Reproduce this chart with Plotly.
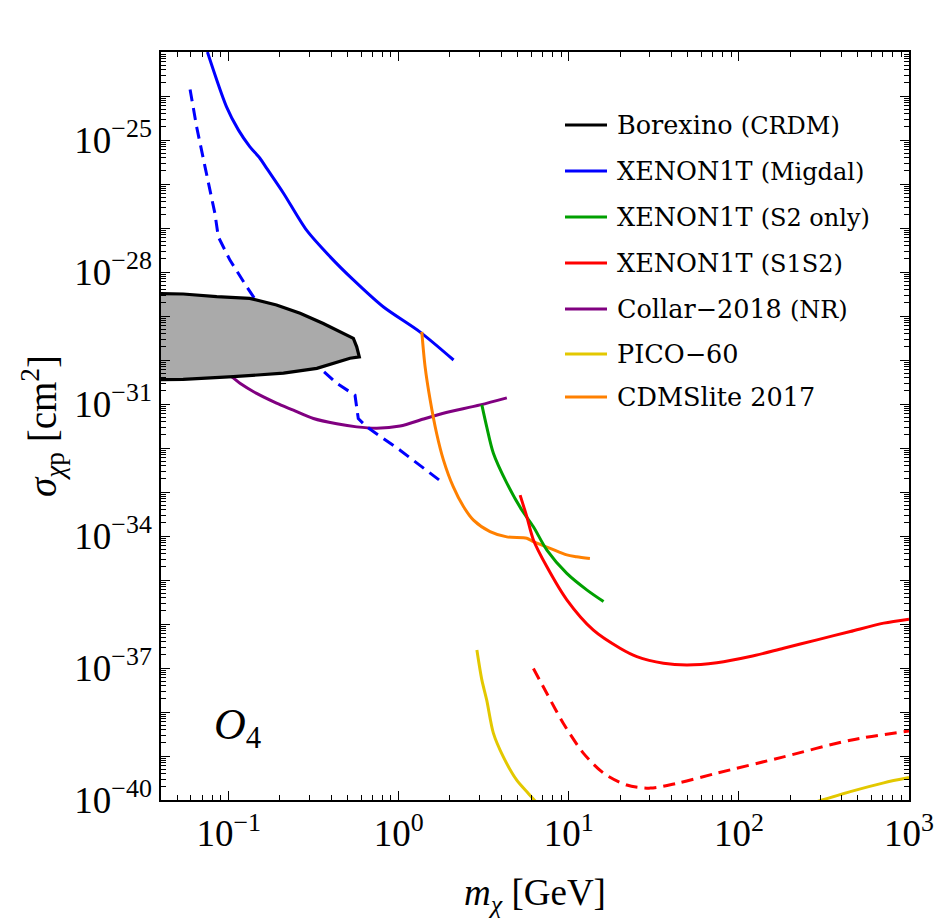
import plotly.graph_objects as go

# ---------------- data ----------------
# Borexino (CRDM) excluded region (closed polygon: upper edge then lower edge)
borexino_x = [0.03, 0.054, 0.085, 0.133, 0.191, 0.263, 0.360, 0.472, 0.541, 0.566, 0.586,
              0.517, 0.330, 0.210, 0.1064, 0.054, 0.03, 0.03]
borexino_y = [-28.48, -28.50, -28.56, -28.60, -28.75, -28.94, -29.17, -29.39, -29.51, -29.70, -29.93,
              -29.96, -30.19, -30.30, -30.38, -30.44, -30.45, -28.48]

migdal_x = [0.075, 0.097, 0.114, 0.133, 0.153, 0.167, 0.21, 0.287, 0.394, 0.541, 0.81, 1.33, 2.1]
migdal_y = [-23.0, -24.24, -24.77, -25.15, -25.42, -25.64, -26.21, -27.05, -27.65, -28.18, -28.79, -29.36, -30.0]

migdal_d_x = [0.0593, 0.0648, 0.0726, 0.083, 0.0869, 0.1017, 0.1275, 0.153, 0.23, 0.337, 0.432, 0.553,
              0.578, 0.648, 1.018, 1.83]
migdal_d_y = [-23.85, -24.70, -25.61, -26.67, -27.20, -27.73, -28.33, -28.79, -29.45, -30.15, -30.53, -30.80,
              -31.33, -31.52, -32.05, -32.80]

s2_x = [3.08, 3.29, 3.60, 4.32, 5.29, 6.19, 7.43, 9.73, 12.8, 16.0]
s2_y = [-31.02, -31.52, -32.12, -32.80, -33.41, -33.79, -34.32, -34.85, -35.23, -35.49]

s1s2_x = [5.17, 5.66, 6.19, 7.43, 9.73, 13.95, 20.0, 25.1, 36.0, 49.4, 74.2, 116.5, 183, 288, 452, 710, 1000]
s1s2_y = [-33.07, -33.56, -34.09, -34.70, -35.45, -36.14, -36.55, -36.74, -36.89, -36.93, -36.88, -36.74,
          -36.55, -36.36, -36.17, -35.98, -35.89]

s1s2_d_x = [6.19, 7.43, 9.29, 12.2, 16.0, 21.9, 30.1, 43.2, 74.2, 183, 452, 1000]
s1s2_d_y = [-37.01, -37.58, -38.26, -38.94, -39.39, -39.66, -39.73, -39.62, -39.39, -39.02, -38.64, -38.43]

collar_x = [0.09, 0.104, 0.1165, 0.146, 0.191, 0.24, 0.315, 0.432, 0.566, 0.742, 1.018, 1.40, 1.83, 3.01, 4.32]
collar_y = [-30.30, -30.38, -30.53, -30.76, -30.98, -31.14, -31.33, -31.45, -31.52, -31.55, -31.50, -31.34,
            -31.21, -31.02, -30.86]

pico_x = [2.88, 3.08, 3.29, 3.60, 4.12, 4.94, 5.78, 6.6, None, 280, 452, 710, 1000]
pico_y = [-36.59, -37.27, -37.73, -38.48, -39.02, -39.55, -39.85, -40.1, None, -40.05, -39.81, -39.61, -39.49]

cdms_x = [1.366, 1.428, 1.53, 1.67, 1.83, 2.09, 2.40, 2.75, 3.44, 4.32, 5.66, 6.19, 7.76, 9.73, 11.1, 13.3]
cdms_y = [-29.36, -30.15, -30.91, -31.67, -32.27, -32.88, -33.33, -33.64, -33.90, -34.02, -34.05, -34.13,
          -34.28, -34.43, -34.47, -34.51]

legend_labels = ["Borexino", "XENON1T", "XENON1T", "XENON1T", "Collar\u22122018", "PICO\u221260", "CDMSlite 2017"]
legend_notes = ["(CRDM)", "(Migdal)", "(S2 only)", "(S1S2)", "(NR)", "", ""]
legend_colors = ["#000000", "#0000FF", "#00A000", "#FF0000", "#800080", "#E3C800", "#FF8000"]

x_tickvals = [0.1, 1, 10, 100, 1000]
x_ticktext = ["10<sup>\u22121</sup>", "10<sup>0</sup>", "10<sup>1</sup>", "10<sup>2</sup>", "10<sup>3</sup>"]
y_decades = list(range(-40, -22))
y_labelled = [-40, -37, -34, -31, -28, -25]

# ---------------- figure ----------------
def ylin(v):
    return [None if a is None else 10 ** a for a in v]

fig = go.Figure()
LW = 3

def smooth(color, dash=None):
    d = dict(color=color, width=LW, shape="spline", smoothing=0.8)
    if dash:
        d["dash"] = dash
    return d

fig.add_trace(go.Scatter(x=collar_x, y=ylin(collar_y), mode="lines",
                         line=smooth("#800080"), showlegend=False))
fig.add_trace(go.Scatter(x=migdal_d_x, y=ylin(migdal_d_y), mode="lines",
                         line=dict(color="#0000FF", width=LW, dash="12px,7px"), showlegend=False))
fig.add_trace(go.Scatter(x=borexino_x, y=ylin(borexino_y), mode="lines", fill="toself",
                         fillcolor="#AAAAAA", line=dict(color="#000000", width=3.2), showlegend=False))
fig.add_trace(go.Scatter(x=migdal_x, y=ylin(migdal_y), mode="lines",
                         line=smooth("#0000FF"), showlegend=False))
fig.add_trace(go.Scatter(x=cdms_x, y=ylin(cdms_y), mode="lines",
                         line=smooth("#FF8000"), showlegend=False))
fig.add_trace(go.Scatter(x=s2_x, y=ylin(s2_y), mode="lines",
                         line=smooth("#00A000"), showlegend=False))
fig.add_trace(go.Scatter(x=s1s2_x, y=ylin(s1s2_y), mode="lines",
                         line=smooth("#FF0000"), showlegend=False))
fig.add_trace(go.Scatter(x=s1s2_d_x, y=ylin(s1s2_d_y), mode="lines",
                         line=smooth("#FF0000", "12px,7px"), showlegend=False))
fig.add_trace(go.Scatter(x=pico_x, y=ylin(pico_y), mode="lines", connectgaps=False,
                         line=smooth("#E3C800"), showlegend=False))

# manual legend
L, R, T, B = 161, 909, 52, 800
W, H = R - L, B - T
row_y = [125, 171, 217, 263, 309, 354, 397]
for i, (lab, note, col) in enumerate(zip(legend_labels, legend_notes, legend_colors)):
    py = (B - row_y[i]) / H
    fig.add_shape(type="line", xref="paper", yref="paper",
                  x0=(565 - L) / W, x1=(607 - L) / W, y0=py, y1=py,
                  line=dict(color=col, width=3))
    txt = lab if not note else f"{lab} <span style='font-size:24px'>{note}</span>"
    fig.add_annotation(xref="paper", yref="paper", x=(615 - L) / W, y=py,
                       xanchor="left", yanchor="middle", showarrow=False, text=txt,
                       font=dict(family="DejaVu Serif", size=25.5, color="black"))

fig.add_annotation(xref="paper", yref="paper", x=(212 - L) / W, y=(B - 727) / H,
                   xanchor="left", yanchor="middle", showarrow=False,
                   text="<i>O</i><sub>4</sub>",
                   font=dict(family="Liberation Serif", size=44, color="black"))

minor_x = [m * 10 ** e for e in range(-2, 3) for m in range(2, 10)]
minor_y = [m * 10.0 ** e for e in range(-41, -22) for m in range(2, 10)]

fig.update_xaxes(type="log", range=[-1.39794, 3], automargin=False,
                 tickvals=x_tickvals, ticktext=x_ticktext,
                 ticks="inside", ticklen=9, tickwidth=1.3, tickcolor="black",
                 minor=dict(tickvals=minor_x, ticks="inside", ticklen=5, tickwidth=1.1, tickcolor="black",
                            showgrid=False),
                 showline=True, linecolor="black", linewidth=1.5, mirror="allticks",
                 showgrid=False, zeroline=False,
                 tickfont=dict(family="Liberation Serif", size=37, color="black"),
                 title=dict(text="<i>m</i><sub><i>\u03c7</i></sub> [GeV]", standoff=30,
                            font=dict(family="Liberation Serif", size=37, color="black")))
fig.update_yaxes(type="log", range=[-40, -23], automargin=False,
                 tickvals=[10.0 ** d for d in y_decades],
                 ticktext=[(f"10<sup>\u2212{-d}</sup>" if d in y_labelled else "") for d in y_decades],
                 ticks="inside", ticklen=9, tickwidth=1.3, tickcolor="black",
                 minor=dict(tickvals=minor_y, ticks="inside", ticklen=5, tickwidth=1.1, tickcolor="black",
                            showgrid=False),
                 showline=True, linecolor="black", linewidth=1.5, mirror="allticks",
                 showgrid=False, zeroline=False,
                 tickfont=dict(family="Liberation Serif", size=37, color="black"),
                 title=dict(text="<i>\u03c3</i><sub><i>\u03c7</i>p</sub> [cm<sup>2</sup>]", standoff=6,
                            font=dict(family="Liberation Serif", size=39, color="black")))

fig.update_layout(width=938, height=919,
                  margin=dict(l=L, r=938 - R, t=T, b=919 - B, pad=0),
                  plot_bgcolor="white", paper_bgcolor="white", showlegend=False)

fig.write_html("out.html")
